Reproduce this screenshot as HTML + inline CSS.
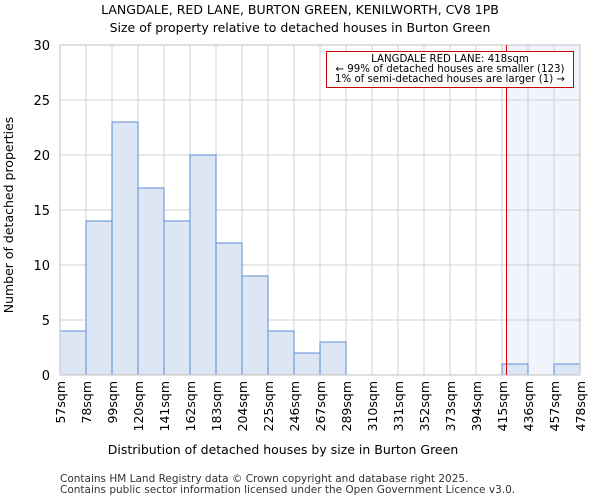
<!DOCTYPE html>
<html><head><meta charset="utf-8"><style>
body{margin:0;background:#fff;font-family:"DejaVu Sans","Liberation Sans",sans-serif}
</style></head><body>
<svg id="c" width="600" height="500" font-family="DejaVu Sans, Liberation Sans, sans-serif">
<text x="300" y="14" text-anchor="middle" font-size="12.5">LANGDALE, RED LANE, BURTON GREEN, KENILWORTH, CV8 1PB</text>
<text x="300" y="32" text-anchor="middle" font-size="12.5">Size of property relative to detached houses in Burton Green</text>
<g id="plot"></g>
<text x="283" y="454" text-anchor="middle" font-size="12.5">Distribution of detached houses by size in Burton Green</text>
<text transform="translate(13,215) rotate(-90)" text-anchor="middle" font-size="12.5">Number of detached properties</text>
<text x="60" y="482" font-size="10.5" fill="#333">Contains HM Land Registry data © Crown copyright and database right 2025.</text>
<text x="60" y="493" font-size="10.5" fill="#333">Contains public sector information licensed under the Open Government Licence v3.0.</text>
</svg>
<script>
const binLabels=["57sqm","78sqm","99sqm","120sqm","141sqm","162sqm","183sqm","204sqm","225sqm","246sqm","267sqm","289sqm","310sqm","331sqm","352sqm","373sqm","394sqm","415sqm","436sqm","457sqm","478sqm"];
const binEdges=[57,78,99,120,141,162,183,204,225,246,267,289,310,331,352,373,394,415,436,457,478];
const counts=[4,14,23,17,14,20,12,9,4,2,3,0,0,0,0,0,0,1,0,1];
const yTicks=[0,5,10,15,20,25,30];
const markerValue=418;
const NS="http://www.w3.org/2000/svg";
const g=document.getElementById('plot');
const X0=60,X1=580,Y0=375,Y1=45,YMAX=30;
const nb=counts.length;
const xi=i=>X0+(X1-X0)*i/nb;
const xv=v=>{for(let i=0;i<binEdges.length-1;i++){if(v<=binEdges[i+1])return xi(i)+(v-binEdges[i])/(binEdges[i+1]-binEdges[i])*(xi(i+1)-xi(i));}return X1;};
const y=v=>Y0-(Y0-Y1)*v/YMAX;
function el(t,a){const e=document.createElementNS(NS,t);for(const k in a)e.setAttribute(k,a[k]);g.appendChild(e);return e;}
const mx=Math.round(xv(markerValue))+0.5;
let r=el('rect',{x:mx,y:Y1,width:X1-mx,height:Y0-Y1,fill:'#f1f4fc'});


yTicks.forEach(t=>{const l=el('line',{x1:X0,x2:X1,y1:y(t),y2:y(t),stroke:'#d0d0d0'});


const tx=el('text',{x:X0-10,y:y(t)+5,'text-anchor':'end','font-size':13});tx.textContent=t;

});
for(let i=0;i<=nb;i++){const l=el('line',{x1:xi(i),x2:xi(i),y1:Y1,y2:Y0,stroke:'#d0d0d0'});

}
counts.forEach((c,i)=>{if(c<=0)return;const b=el('rect',{x:xi(i),y:y(c),width:xi(i+1)-xi(i),height:Y0-y(c),fill:'#dce6f4',stroke:'#5b8fd6','stroke-width':1});

});
const f=el('rect',{x:X0,y:Y1,width:X1-X0,height:Y0-Y1,fill:'none',stroke:'#c0c0c0'});


binLabels.forEach((s,i)=>{const t=el('text',{transform:`translate(${xi(i)+5},381) rotate(-90)`,'text-anchor':'end','font-size':12.5});t.textContent=s;

});
const ml=el('line',{x1:mx,x2:mx,y1:Y1,y2:Y0,stroke:'#dd0000','stroke-width':1});


const ab=el('rect',{x:326.5,y:51.5,width:247,height:36,fill:'#fff',stroke:'#cc0000'});


["LANGDALE RED LANE: 418sqm","← 99% of detached houses are smaller (123)","1% of semi-detached houses are larger (1) →"].forEach((s,i)=>{const t=el('text',{x:450,y:62+i*10,'text-anchor':'middle','font-size':10.2});t.textContent=s;

});
</script>
</body></html>
